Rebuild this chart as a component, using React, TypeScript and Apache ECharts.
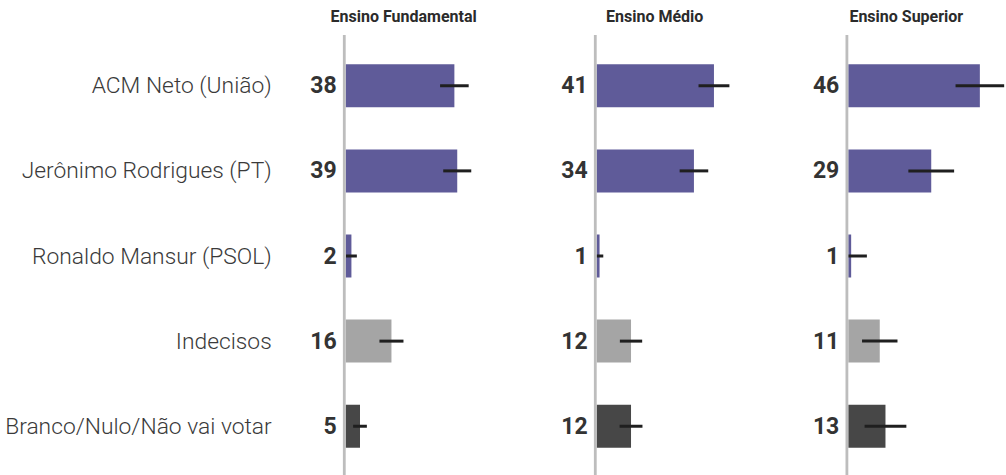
import React, { useEffect, useRef } from "react";
import * as echarts from "echarts";

const categories = [
  "ACM Neto (União)",
  "Jerônimo Rodrigues (PT)",
  "Ronaldo Mansur (PSOL)",
  "Indecisos",
  "Branco/Nulo/Não vai votar",
];
const panelTitles = ["Ensino Fundamental", "Ensino Médio", "Ensino Superior"];
const valuesFundamental = [38, 39, 2, 16, 5];
const valuesMedio = [41, 34, 1, 12, 12];
const valuesSuperior = [46, 29, 1, 11, 13];
const marginsFundamental = [5, 4.9, 1.9, 4.2, 2.4];
const marginsMedio = [5.4, 5, 1.3, 3.9, 4];
const marginsSuperior = [8.5, 8, 5.5, 6.2, 7.3];
const barColors = ["#5f5b99", "#5f5b99", "#5f5b99", "#a5a5a5", "#474747"];

const panelValues = [valuesFundamental, valuesMedio, valuesSuperior];
const panelMargins = [marginsFundamental, marginsMedio, marginsSuperior];

export default function App() {
  const ref = useRef<HTMLDivElement>(null);
  useEffect(() => {
    if (!ref.current) return;
    const chart = echarts.init(ref.current, null, { renderer: "svg" });
    const lefts = [345.7, 596.7, 848.3];
    const pxPerUnit = 2.86;
    const xMax = 55;
    const grids = lefts.map((l) => ({
      left: l,
      top: 43.2,
      width: xMax * pxPerUnit,
      height: 425.6,
      containLabel: false,
    }));
    const xAxes = lefts.map((_, i) => ({
      type: "value",
      gridIndex: i,
      min: 0,
      max: xMax,
      show: false,
    }));
    const yAxes = lefts.map((_, i) => ({
      type: "category",
      gridIndex: i,
      data: categories,
      inverse: true,
      axisLine: { show: false },
      axisTick: { show: false },
      splitLine: { show: false },
      axisLabel: {
        show: i === 0,
        margin: 74,
        fontFamily: "Roboto",
        fontWeight: 300,
        fontSize: 22.8,
        color: "#3a3a3a",
      },
    }));
    const series: any[] = [];
    panelValues.forEach((vals, i) => {
      series.push({
        type: "bar",
        xAxisIndex: i,
        yAxisIndex: i,
        barWidth: 43,
        data: vals.map((v, k) => ({ value: v, itemStyle: { color: barColors[k] } })),
        label: {
          show: true,
          position: "left",
          distance: 9,
          fontFamily: "Roboto",
          fontWeight: "bold",
          fontSize: 23,
          color: "#333333",
        },
        z: 2,
      });
      series.push({
        type: "custom",
        xAxisIndex: i,
        yAxisIndex: i,
        clip: false,
        data: vals.map((v, k) => [Math.max(0, v - panelMargins[i][k]), v + panelMargins[i][k], k]),
        encode: { x: [0, 1], y: 2 },
        renderItem: (params: any, api: any) => {
          const y = api.value(2);
          const p1 = api.coord([api.value(0), y]);
          const p2 = api.coord([api.value(1), y]);
          return {
            type: "line",
            shape: { x1: p1[0], y1: p1[1], x2: p2[0], y2: p2[1] },
            style: { stroke: "#1f1f1f", lineWidth: 3 },
          };
        },
        z: 3,
      });
    });
    const graphics: any[] = [];
    lefts.forEach((l, i) => {
      graphics.push({
        type: "line",
        shape: { x1: l - 1.4, y1: 35, x2: l - 1.4, y2: 475 },
        style: { stroke: "#bdbdbd", lineWidth: 2.8 },
        z: 10,
      });
      graphics.push({
        type: "text",
        x: l + 58,
        y: 16,
        style: {
          text: panelTitles[i],
          align: "center",
          verticalAlign: "middle",
          fontFamily: "Roboto",
          fontWeight: "bold",
          fontSize: 16,
          fill: "#2b2b2b",
        },
      });
    });
    chart.setOption({
      animation: false,
      backgroundColor: "#ffffff",
      grid: grids,
      xAxis: xAxes,
      yAxis: yAxes,
      series,
      graphic: graphics,
    });
    return () => chart.dispose();
  }, []);
  return (
    <div
      ref={ref}
      style={{ position: "fixed", left: 0, top: 0, width: 1006, height: 475 }}
    />
  );
}
